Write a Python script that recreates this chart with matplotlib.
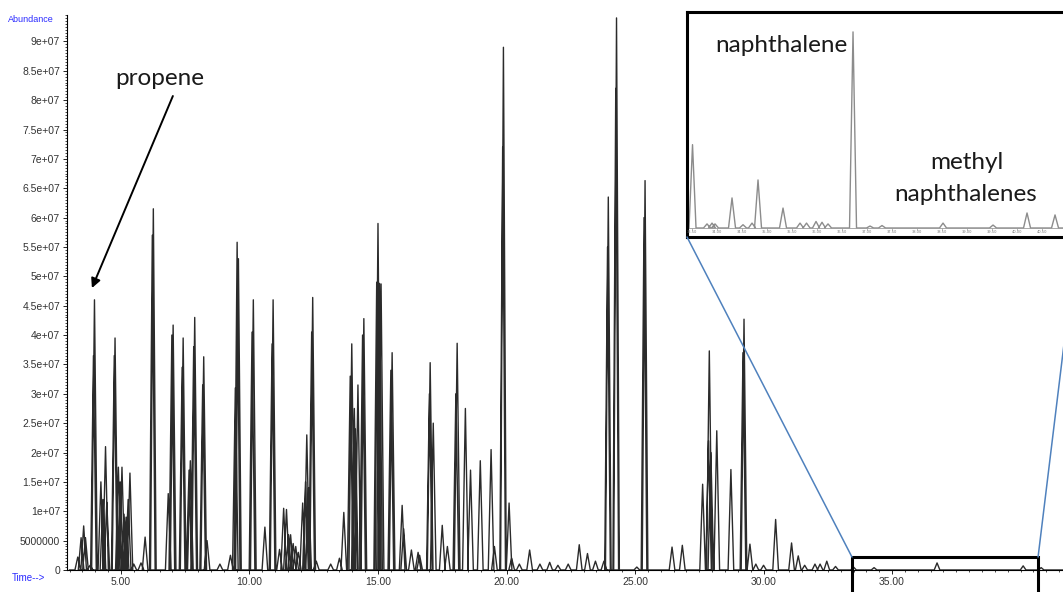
import matplotlib
matplotlib.use("Agg")
import matplotlib.pyplot as plt
from matplotlib.patches import Rectangle, ConnectionPatch
from matplotlib.ticker import MultipleLocator, FuncFormatter

# apex time (min) and height (x1e6 counts) of each peak in the TIC
peak_times = [3.32, 3.45, 3.55, 3.62, 3.80, 3.93, 3.97, 4.22, 4.30, 4.40,
              4.45, 4.74, 4.77, 4.90, 4.97, 5.04, 5.12, 5.20, 5.28, 5.35,
              5.50, 5.78, 5.94, 6.22, 6.26, 6.84, 6.98, 7.03, 7.38, 7.42,
              7.65, 7.70, 7.83, 7.87, 8.18, 8.22, 8.35, 8.85, 9.26, 9.45,
              9.52, 9.57, 10.10, 10.15, 10.60, 10.88, 10.92, 11.17, 11.33, 11.44,
              11.52, 11.60, 11.70, 11.80, 11.90, 12.07, 12.18, 12.23, 12.30, 12.42,
              12.46, 12.60, 13.16, 13.50, 13.67, 13.92, 13.98, 14.08, 14.12, 14.22,
              14.40, 14.45, 14.95, 15.00, 15.06, 15.12, 15.50, 15.55, 15.94, 16.00,
              16.30, 16.56, 16.62, 17.00, 17.03, 17.15, 17.50, 17.70, 18.03, 18.08,
              18.40, 18.60, 18.98, 19.40, 19.53, 19.85, 19.88, 20.10, 20.20, 20.50,
              20.90, 21.30, 21.68, 22.00, 22.40, 22.83, 23.15, 23.46, 23.79, 23.93,
              23.96, 24.25, 24.28, 25.07, 25.35, 25.39, 26.44, 26.84, 27.63, 27.86,
              27.89, 27.95, 28.18, 28.73, 29.20, 29.24, 29.47, 29.70, 30.00, 30.47,
              31.09, 31.35, 31.60, 32.00, 32.20, 32.46, 32.80, 33.50, 34.30, 36.75,
              40.10, 40.80]
peak_heights = [2.2, 5.5, 7.5, 5.5, 0.8, 36.5, 46.0, 15.0, 12.0, 21.0,
                11.5, 36.5, 39.5, 17.5, 15.0, 17.5, 9.5, 9.0, 12.0, 16.5,
                1.0, 1.2, 5.6, 57.0, 61.5, 13.0, 40.0, 41.7, 34.5, 39.5,
                17.0, 18.6, 38.0, 43.0, 31.5, 36.3, 5.0, 1.0, 2.5, 31.0,
                55.8, 53.0, 40.5, 46.0, 7.3, 38.5, 46.0, 3.5, 10.5, 10.3,
                6.0, 6.0, 4.5, 4.0, 3.0, 11.4, 15.0, 23.0, 14.0, 40.5,
                46.4, 1.5, 1.0, 2.0, 9.8, 33.0, 38.5, 27.5, 24.0, 31.5,
                40.0, 42.8, 49.0, 59.0, 48.8, 48.7, 34.0, 37.0, 11.0, 7.0,
                3.4, 3.0, 2.5, 30.0, 35.3, 25.0, 7.6, 4.0, 30.0, 38.6,
                27.5, 17.0, 18.6, 20.5, 4.0, 72.0, 89.0, 11.4, 2.0, 1.0,
                3.4, 1.0, 1.3, 0.8, 1.0, 4.3, 2.8, 1.5, 1.5, 55.0,
                63.5, 82.0, 94.0, 0.5, 60.0, 66.3, 3.9, 4.2, 14.6, 22.0,
                37.3, 20.0, 23.7, 17.1, 37.0, 42.7, 4.4, 1.0, 0.8, 8.6,
                4.6, 2.4, 0.8, 1.0, 1.0, 1.5, 0.6, 0.5, 0.4, 1.2,
                0.7, 0.4]

# zoomed window (33.4 - 41.2 min), heights x1e6
inset_times = [33.51, 33.80, 33.90, 33.96, 34.30, 34.52, 34.70, 34.82, 35.32, 35.66,
               35.79, 35.98, 36.10, 36.22, 36.72, 37.06, 37.30, 38.52, 39.52, 40.20,
               40.76]
inset_heights = [0.51, 0.025, 0.03, 0.025, 0.184, 0.02, 0.03, 0.294, 0.122, 0.03,
                 0.03, 0.04, 0.035, 0.025, 1.2, 0.012, 0.015, 0.03, 0.018, 0.092,
                 0.08]
inset_ticks = [33.5, 34.0, 34.5, 35.0, 35.5, 36.0, 36.5, 37.0, 37.5, 38.0,
               38.5, 39.0, 39.5, 40.0, 40.5]

x_ticks = [5, 10, 15, 20, 25, 30, 35]
y_ticks = [i * 5e6 for i in range(19)]


def spike_trace(times, heights, half_width, start, end):
    xs, ys = [start], [0]
    for t, h in zip(times, heights):
        xs += [t - half_width, t, t + half_width]
        ys += [0, h * 1e6, 0]
    xs.append(end)
    ys.append(0)
    return xs, ys


def y_fmt(v, pos):
    if v == 0:
        return "0"
    if v < 1e7:
        return str(int(v))
    return "%g" % v


fig = plt.figure(figsize=(10.63, 5.92), dpi=100)
ax = fig.add_axes([0.063, 0.0372, 0.937, 0.9375])

xs, ys = spike_trace(peak_times, peak_heights, 0.11, 3.0, 41.7)
ax.plot(xs, ys, color="#2b2b2b", lw=1.0)

ax.set_xlim(2.9, 41.65)
ax.set_ylim(0, 9.45e7)
for s in ["top", "right"]:
    ax.spines[s].set_visible(False)
ax.spines["left"].set_linewidth(0.8)
ax.spines["bottom"].set_linewidth(0.8)

ax.set_yticks(y_ticks)
ax.yaxis.set_major_formatter(FuncFormatter(y_fmt))
ax.yaxis.set_minor_locator(MultipleLocator(5e5))
ax.set_xticks(x_ticks)
ax.set_xticklabels(["%.2f" % t for t in x_ticks])
ax.xaxis.set_minor_locator(MultipleLocator(0.5))
ax.tick_params(which="major", length=3, width=0.6, labelsize=7.5,
               labelcolor="#333333", pad=2)
ax.tick_params(which="minor", length=1.5, width=0.5)
for lab in ax.get_xticklabels() + ax.get_yticklabels():
    lab.set_family("Liberation Sans")

fig.text(8 / 1063, 1 - 19 / 592, "Abundance", color="#2a2aff", fontsize=6.5,
         family="Liberation Sans", va="center")
fig.text(12 / 1063, 1 - 578 / 592, "Time-->", color="#2a2aff", fontsize=7,
         family="Liberation Sans", va="center")

# propene label with arrow
ax.text(6.5, 8.36e7, "propene", fontsize=17.5, family="Lato", color="#1a1a1a",
        ha="center", va="center")
ax.annotate("", xy=(3.87, 4.8e7), xytext=(7.02, 8.07e7),
            arrowprops=dict(arrowstyle="-|>", color="black", lw=1.4,
                            mutation_scale=14, shrinkA=0, shrinkB=0))

# zoom window box on the main trace
box = Rectangle((33.44, -6e6), 40.68 - 33.44, 2.2e6 + 6e6, fill=False,
                edgecolor="black", lw=2.2, clip_on=False, zorder=5)
ax.add_patch(box)

# inset
ax_in = fig.add_axes([0.6463, 0.5997, 0.3669, 0.3801])
ix, iy = spike_trace(inset_times, inset_heights, 0.07, 33.4, 41.2)
ax_in.plot(ix, iy, color="#8c8c8c", lw=1.0)
ax_in.axhline(0, color="#9a9a9a", lw=0.6)
ax_in.vlines(inset_ticks, -0.012e6, 0, color="#9a9a9a", lw=0.5)
for t in inset_ticks:
    ax_in.text(t, -0.014e6, "%.2f" % t, fontsize=2.6, color="#777777",
               ha="center", va="top")
ax_in.set_xlim(33.4, 41.2)
ax_in.set_ylim(-0.055e6, 1.322e6)
ax_in.set_xticks([])
ax_in.set_yticks([])
for s in ax_in.spines.values():
    s.set_linewidth(2.2)
ax_in.text(0.241, 0.849, "naphthalene", transform=ax_in.transAxes, fontsize=17.5,
           family="Lato", color="#1a1a1a", ha="center", va="center")
ax_in.text(0.718, 0.329, "methyl", transform=ax_in.transAxes, fontsize=17.5,
           family="Lato", color="#1a1a1a", ha="center", va="center")
ax_in.text(0.715, 0.187, "naphthalenes", transform=ax_in.transAxes, fontsize=17.5,
           family="Lato", color="#1a1a1a", ha="center", va="center")

for corner, tx in [((0, 0), 33.44), ((1, 0), 40.68)]:
    con = ConnectionPatch(xyA=corner, coordsA=ax_in.transAxes,
                          xyB=(tx, 2.2e6), coordsB=ax.transData,
                          color="#4f81bd", lw=1.1)
    fig.add_artist(con)

fig.savefig("out.png", dpi=100)
